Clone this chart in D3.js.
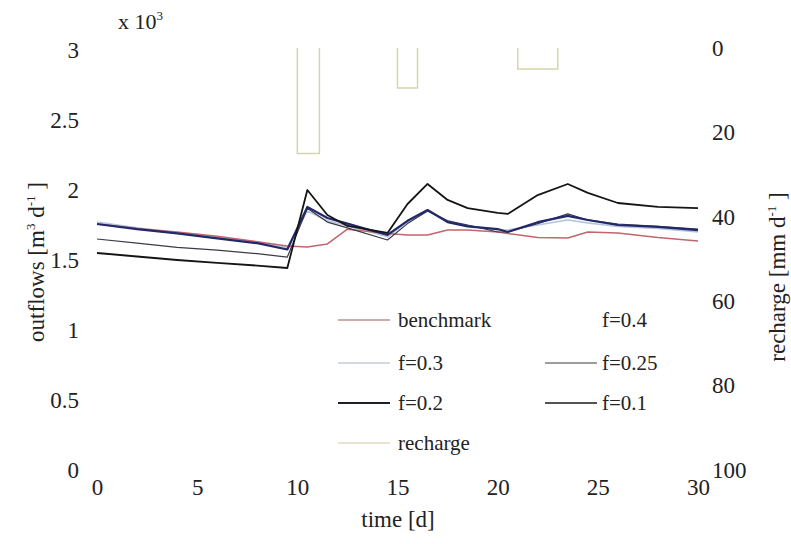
<!DOCTYPE html>
<html>
<head>
<meta charset="utf-8">
<script src="https://cdn.jsdelivr.net/npm/d3@7"></script>
<style>
  body { margin: 0; background: #fff; }
</style>
</head>
<body>
<script>
// time steps [d]
var time = [0, 2, 4, 6, 8, 9.5, 10.5, 11.5, 12.5, 14.5, 15.5, 16.5, 17.5, 18.5, 20, 20.5, 22, 23.5, 24.5, 26, 28, 30]

// outflows [m3/d]
var benchmark = [1757, 1725, 1700, 1670, 1630, 1600, 1593, 1615, 1720, 1690, 1679, 1679, 1714, 1714, 1700, 1690, 1660, 1657, 1700, 1693, 1660, 1636]
var f04 = [1765, 1728, 1698, 1662, 1628, 1592, 1860, 1785, 1750, 1670, 1775, 1855, 1785, 1750, 1718, 1712, 1755, 1790, 1770, 1745, 1728, 1705]
var f03 = [1771, 1730, 1695, 1660, 1625, 1590, 1850, 1780, 1745, 1665, 1770, 1850, 1780, 1745, 1715, 1715, 1750, 1786, 1765, 1740, 1725, 1700]
var f025 = [1650, 1620, 1590, 1570, 1545, 1521, 1870, 1771, 1730, 1643, 1760, 1850, 1780, 1750, 1700, 1700, 1760, 1829, 1786, 1757, 1740, 1721]
var f02 = [1757, 1720, 1690, 1655, 1620, 1575, 1879, 1800, 1760, 1679, 1780, 1857, 1771, 1740, 1721, 1700, 1770, 1815, 1786, 1750, 1736, 1714]
var f01 = [1550, 1525, 1500, 1480, 1460, 1443, 2000, 1821, 1743, 1693, 1900, 2043, 1929, 1871, 1836, 1829, 1964, 2043, 1979, 1907, 1880, 1871]

// recharge events [mm/d]
var rechargeStart = [10, 15, 21]
var rechargeEnd = [11.1, 16, 23]
var rechargeDepth = [25, 9.5, 5]

var xTicks = [0, 5, 10, 15, 20, 25, 30]
var yTicks = [0, 0.5, 1, 1.5, 2, 2.5, 3]
var rTicks = [0, 20, 40, 60, 80, 100]

var series = [
  { name: "f=0.4", values: f04, color: "#f0f2f6", width: 1 },
  { name: "f=0.3", values: f03, color: "#b4c6dc", width: 1.5 },
  { name: "benchmark", values: benchmark, color: "#c0666c", width: 1.5 },
  { name: "f=0.25", values: f025, color: "#3a3a4a", width: 1.2 },
  { name: "f=0.2", values: f02, color: "#23286a", width: 2.2 },
  { name: "f=0.1", values: f01, color: "#151515", width: 1.8 }
]

var W = 791, H = 544
var serif = "'Liberation Serif', 'DejaVu Serif', serif"

var svg = d3.select("body").append("svg")
  .attr("width", W)
  .attr("height", H)
  .attr("font-family", serif)

var x = d3.scaleLinear().domain([0, 30]).range([97, 698])
var y = d3.scaleLinear().domain([0, 3000]).range([470, 50])
var yr = d3.scaleLinear().domain([0, 100]).range([48, 470])

// recharge bars (right axis)
var rechargeLine = d3.line()
  .x(function(d) { return x(d[0]) })
  .y(function(d) { return yr(d[1]) })

svg.append("g").selectAll("path.recharge")
  .data(rechargeStart.map(function(s, i) {
    return [[s, 0], [s, rechargeDepth[i]], [rechargeEnd[i], rechargeDepth[i]], [rechargeEnd[i], 0]]
  }))
  .enter().append("path")
  .attr("class", "recharge")
  .attr("d", rechargeLine)
  .style("fill", "none")
  .style("stroke", "#d6d6ac")
  .style("stroke-width", 1.5)

// outflow lines
var line = d3.line()
  .x(function(d, i) { return x(time[i]) })
  .y(function(d) { return y(d) })

svg.append("g").selectAll("path.series")
  .data(series)
  .enter().append("path")
  .attr("class", "series")
  .attr("d", function(d) { return line(d.values) })
  .style("fill", "none")
  .style("stroke", function(d) { return d.color })
  .style("stroke-width", function(d) { return d.width })
  .style("stroke-linejoin", "round")

// axes: labels only, no domain or tick marks
var fs = 23

var gx = svg.append("g").attr("transform", "translate(0, 479)")
  .call(d3.axisBottom(x).tickValues(xTicks).tickSize(0).tickPadding(0))
gx.select(".domain").remove()

var gy = svg.append("g").attr("transform", "translate(79, 0)")
  .call(d3.axisLeft(d3.scaleLinear().domain([0, 3]).range([470, 50])).tickValues(yTicks).tickSize(0).tickPadding(0)
    .tickFormat(function(d) { return d }))
gy.select(".domain").remove()

var gr = svg.append("g").attr("transform", "translate(712, 0)")
  .call(d3.axisRight(yr).tickValues(rTicks).tickSize(0).tickPadding(0))
gr.select(".domain").remove()

svg.selectAll(".tick text")
  .attr("font-family", serif)
  .style("font-size", fs + "px")
  .style("fill", "#222")
gx.selectAll("text").attr("dy", "0.71em")
gx.attr("font-family", serif)
gy.attr("font-family", serif)
gr.attr("font-family", serif)

// multiplier
var mult = svg.append("text").attr("x", 118).attr("y", 29).style("font-size", "22px").style("fill", "#222")
mult.append("tspan").text("x 10")
mult.append("tspan").attr("dy", -9).style("font-size", "13px").text("3")

// axis titles
svg.append("text")
  .attr("x", 398).attr("y", 527)
  .attr("text-anchor", "middle")
  .style("font-size", fs + "px")
  .style("fill", "#222")
  .text("time [d]")

var yl = svg.append("text")
  .attr("transform", "translate(44, 262) rotate(-90)")
  .attr("text-anchor", "middle")
  .style("font-size", fs + "px")
  .style("fill", "#222")
yl.append("tspan").text("outflows [m")
yl.append("tspan").attr("dy", -9).style("font-size", "13px").text("3")
yl.append("tspan").attr("dy", 9).text(" d")
yl.append("tspan").attr("dy", -9).style("font-size", "13px").text("-1")
yl.append("tspan").attr("dy", 9).text(" ]")

var rl = svg.append("text")
  .attr("transform", "translate(785, 277) rotate(-90)")
  .attr("text-anchor", "middle")
  .style("font-size", fs + "px")
  .style("fill", "#222")
rl.append("tspan").text("recharge [mm d")
rl.append("tspan").attr("dy", -9).style("font-size", "13px").text("-1")
rl.append("tspan").attr("dy", 9).text(" ]")

// legend
var legendItems = [
  { name: "benchmark", color: "#c08c92", width: 1.6, col: 0, row: 0 },
  { name: "f=0.3", color: "#c8ccd2", width: 1.6, col: 0, row: 1 },
  { name: "f=0.2", color: "#1e1e2e", width: 2.2, col: 0, row: 2 },
  { name: "recharge", color: "#dcdcc0", width: 1.6, col: 0, row: 3 },
  { name: "f=0.4", color: "#ffffff", width: 1, col: 1, row: 0 },
  { name: "f=0.25", color: "#3a3a3a", width: 1, col: 1, row: 1 },
  { name: "f=0.1", color: "#1a1a1a", width: 1.6, col: 1, row: 2 }
]
var rowY = [320, 363, 403, 443]
var colX = [338, 545]

var lg = svg.append("g").selectAll("g.item")
  .data(legendItems)
  .enter().append("g")
  .attr("transform", function(d) { return "translate(" + colX[d.col] + "," + rowY[d.row] + ")" })

lg.append("line")
  .attr("x1", 0).attr("x2", 52)
  .attr("y1", 0).attr("y2", 0)
  .style("stroke", function(d) { return d.color })
  .style("stroke-width", function(d) { return d.width })

lg.append("text")
  .attr("x", function(d) { return d.col === 1 ? 57 : 60 })
  .attr("y", 7)
  .style("font-size", "21px")
  .style("fill", "#222")
  .text(function(d) { return d.name })
</script>
</body>
</html>
